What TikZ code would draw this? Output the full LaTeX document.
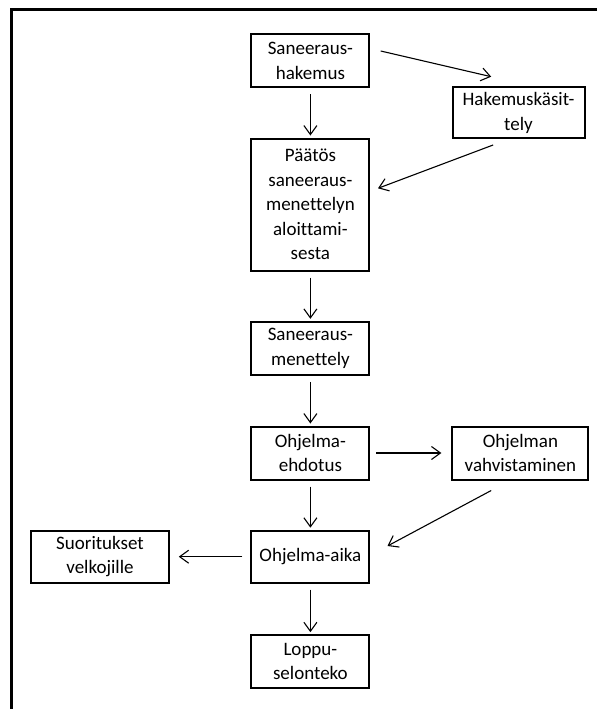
\documentclass[tikz,border=0pt]{standalone}
\usepackage{fontspec}
\setmainfont{Carlito}[Ligatures={NoCommon}]
\usepackage{tikz}
\usetikzlibrary{arrows.meta,positioning}
\tikzstyle{edge}  =[shorten <=6pt, shorten >=2pt,
                    -{Straight Barb[length=9pt,width=13pt]}, line width=1.1pt]
\tikzstyle{box}   =[draw, rectangle, line width=2pt, align=center,
                    inner sep=0pt, minimum width=118pt, minimum height=53pt,
                    font=\fontsize{19}{24.5}\selectfont]

\begin{document}
\begin{tikzpicture}[x=1pt, y=-1pt]
  \useasboundingbox (0,0) rectangle (597,709);
  \draw [line width=2.5pt] (597,9.5) -- (11.4,9.5) -- (11.4,709);
  % middle column
  \node (hakemus) [box] at (310.4,60.7) {Saneeraus-\\hakemus};
  \node (paatos) [box, minimum height=132pt] at (310.4,204.5)
        {Päätös\\saneeraus-\\menettelyn\\aloittami-\\sesta};
  \node (menettely) [box] at (310.4,348.3) {Saneeraus-\\menettely};
  \node (ehdotus) [box] at (310.4,453) {Ohjelma-\\ehdotus};
  \node (aika) [box, minimum height=52pt] at (310.4,556.7) {Ohjelma-aika};
  \node (loppu) [box] at (310.4,661.7) {Loppu-\\selonteko};
  % side boxes
  \node (kasittely) [box, minimum width=132pt, minimum height=51pt]
        at (518.5,112.8) {Hakemuskäsit-\\tely};
  \node (vahvistus) [box, minimum width=136pt] at (520.4,453)
        {Ohjelman\\vahvistaminen};
  \node (suoritukset) [box, minimum width=137.5pt, minimum height=52pt]
        at (100,556.7) {Suoritukset\\velkojille};
  \foreach \a/\b in {hakemus/paatos, paatos/menettely, menettely/ehdotus,
                     ehdotus/aika, aika/loppu}
    { \draw [edge] (\a) to (\b); }
  \draw [edge, shorten <=0pt, shorten >=0pt]
        ([xshift=10.3pt,yshift=9.7pt]hakemus.east) to
        ([xshift=-27.3pt,yshift=9.6pt]kasittely.north);
  \draw [edge, shorten <=0pt, shorten >=0pt]
        ([xshift=-25.4pt,yshift=-5.7pt]kasittely.south) to
        ([xshift=7.6pt,yshift=16.2pt]paatos.east);
  \draw [edge, shorten >=10pt] (ehdotus) to (vahvistus);
  \draw [edge, shorten <=0pt, shorten >=0pt]
        ([xshift=-29.2pt,yshift=-10pt]vahvistus.south) to
        ([xshift=17.1pt,yshift=10.7pt]aika.east);
  \draw [edge, shorten <=8pt, shorten >=9pt] (aika) to (suoritukset);
\end{tikzpicture}
\end{document}
